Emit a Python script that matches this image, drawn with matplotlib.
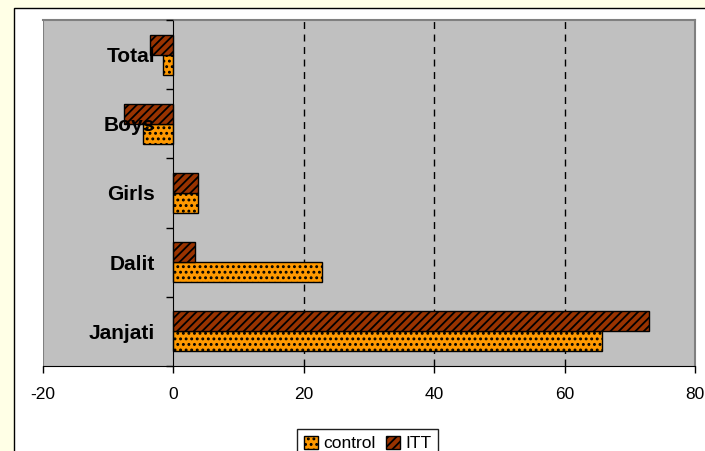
import matplotlib
matplotlib.use("Agg")
import matplotlib.pyplot as plt
import numpy as np
from matplotlib.patches import Rectangle

categories = ["Janjati", "Dalit", "Girls", "Boys", "Total"]
control = [65.7, 22.9, 3.9, -4.6, -1.5]
itt = [73.0, 3.3, 3.9, -7.5, -3.6]
x_ticks = [-20, 0, 20, 40, 60, 80]
grid_at = [20, 40, 60]

plt.rcParams["font.family"] = ["Liberation Sans", "DejaVu Sans"]
plt.rcParams["hatch.linewidth"] = 1.3
plt.rcParams["axes.unicode_minus"] = False

W, H = 705, 451
fig = plt.figure(figsize=(W / 100, H / 100), dpi=100, facecolor="#FFFFE6")

# white chart area with black border, running off the right/bottom edge
fig.patches.append(Rectangle((14 / W, -0.05), 1.0, 1 - 8 / H + 0.05,
                             transform=fig.transFigure, facecolor="white",
                             edgecolor="black", linewidth=1, zorder=-1))

ax = fig.add_axes([42.5 / W, 1 - 366 / H, (695 - 42.5) / W, (366 - 20) / H])
ax.set_facecolor("#C0C0C0")

# spine moves first: set_position resets the tick objects
ax.spines["left"].set_position(("data", 0))
ax.spines["left"].set_color("black")
ax.spines["bottom"].set_color("black")
ax.spines[["top", "right"]].set_color("#808080")
ax.spines[["top", "right"]].set_linewidth(1.5)

ys = np.arange(len(categories))
h = 0.29
ax.barh(ys - h / 2, control, height=h, color="#FF9900", edgecolor="black",
        hatch="...", linewidth=1, label="control", zorder=2)
ax.barh(ys + h / 2, itt, height=h, color="#993300", edgecolor="black",
        hatch="////", linewidth=1, label="ITT", zorder=2)

for v in grid_at:
    ax.axvline(v, color="black", linewidth=1, linestyle=(0, (5, 4)), zorder=1)
ax.axvline(-20, color="#808080", linewidth=1.5, zorder=1)

ax.set_xlim(-20, 80)
ax.set_ylim(-0.5, 4.5)
ax.set_xticks(x_ticks)
ax.set_yticks(np.arange(-0.5, 5, 1), minor=True)
ax.tick_params(axis="y", which="major", length=0, pad=13, labelsize=15)
ax.tick_params(axis="y", which="minor", length=5, width=1, direction="out")
ax.tick_params(axis="x", length=5, width=1, direction="out", labelsize=12.5, pad=10)
ax.set_yticks(ys, categories, fontweight="bold")
# category names sit on top of the bars, as in the original
ax.yaxis.set_zorder(3)

leg = fig.legend(loc="upper center", bbox_to_anchor=(367.5 / W, 1 - 420 / H),
                 ncol=2, frameon=True, fancybox=False, edgecolor="#202020",
                 framealpha=1, fontsize=12.5, handlelength=0.8, handleheight=0.8,
                 columnspacing=0.6, handletextpad=0.3, borderpad=0.4)
leg.get_frame().set_linewidth(1)

fig.savefig("out.png", dpi=100, facecolor=fig.get_facecolor())
